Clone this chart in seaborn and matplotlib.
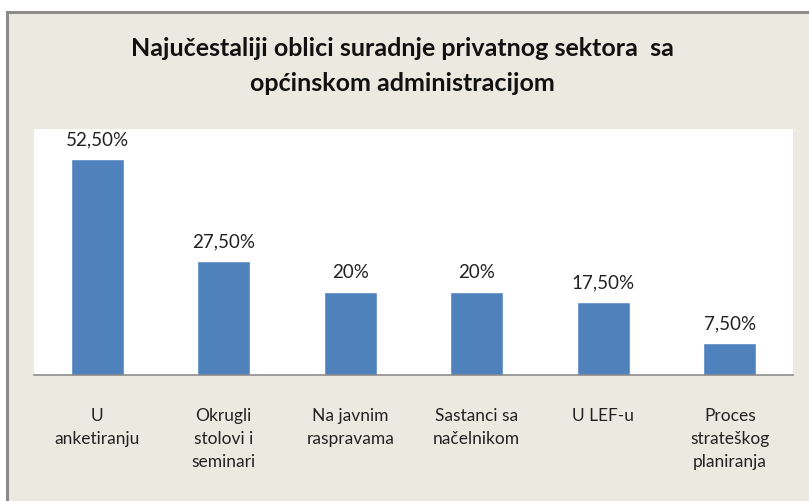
import matplotlib
matplotlib.use("Agg")
import matplotlib.pyplot as plt
import seaborn as sns
import pandas as pd
from matplotlib.patches import Rectangle

# podaci
kategorije = ["U\nanketiranju", "Okrugli\nstolovi i\nseminari", "Na javnim\nraspravama",
              "Sastanci sa\nnačelnikom", "U LEF-u", "Proces\nstrateškog\nplaniranja"]
postotci = [52.5, 27.5, 20, 20, 17.5, 7.5]
naslov = "Najučestaliji oblici suradnje privatnog sektora  sa\nopćinskom administracijom"

df = pd.DataFrame({"kat": kategorije, "pct": postotci})

sns.set_theme(style="white")
plt.rcParams['font.family'] = ['Lato', 'DejaVu Sans']

W, H = 809, 502
fig = plt.figure(figsize=(W / 100, H / 100), dpi=100)
fig.patch.set_facecolor("white")

# okvir grafikona (bez desnog i donjeg ruba)
fig.patches.append(Rectangle((7 / W, -0.2), 1.2, 1.2 - 13 / H,
                             transform=fig.transFigure, facecolor="#ECEAE0",
                             edgecolor="#8C8C8C", linewidth=2.2, zorder=-10))

ax = fig.add_axes([34 / W, (H - 376) / H, (793 - 34) / W, (376 - 130) / H])
ax.set_facecolor("white")

sns.barplot(data=df, x="kat", y="pct", color="#4F81BD", width=0.4,
            saturation=1, ax=ax, edgecolor="#5B8CC6", linewidth=0.5)

ax.set_ylim(0, 60)
ax.set_xlim(-0.5, 5.5)
ax.set_yticks([])
ax.set_xlabel("")
ax.set_ylabel("")
for s in ["top", "right", "left"]:
    ax.spines[s].set_visible(False)
ax.spines["bottom"].set_color("#8C8C8C")
ax.spines["bottom"].set_linewidth(1.2)

ax.tick_params(axis="x", length=0, pad=23, labelsize=12.5, colors="#222222")
for t in ax.get_xticklabels():
    t.set_linespacing(1.55)
    t.set_verticalalignment("top")


def fmt(v):
    if float(v).is_integer():
        return f"{int(v)}%"
    return f"{v:.2f}".replace(".", ",") + "%"


ax.bar_label(ax.containers[0], labels=[fmt(v) for v in postotci], padding=9,
             fontsize=13.5, color="#222222")

fig.text(0.497, 1 - 66 / H, naslov, ha="center", va="center", fontsize=18,
         fontweight="bold", color="#111111", linespacing=1.6)

fig.savefig("out.png", dpi=100)
